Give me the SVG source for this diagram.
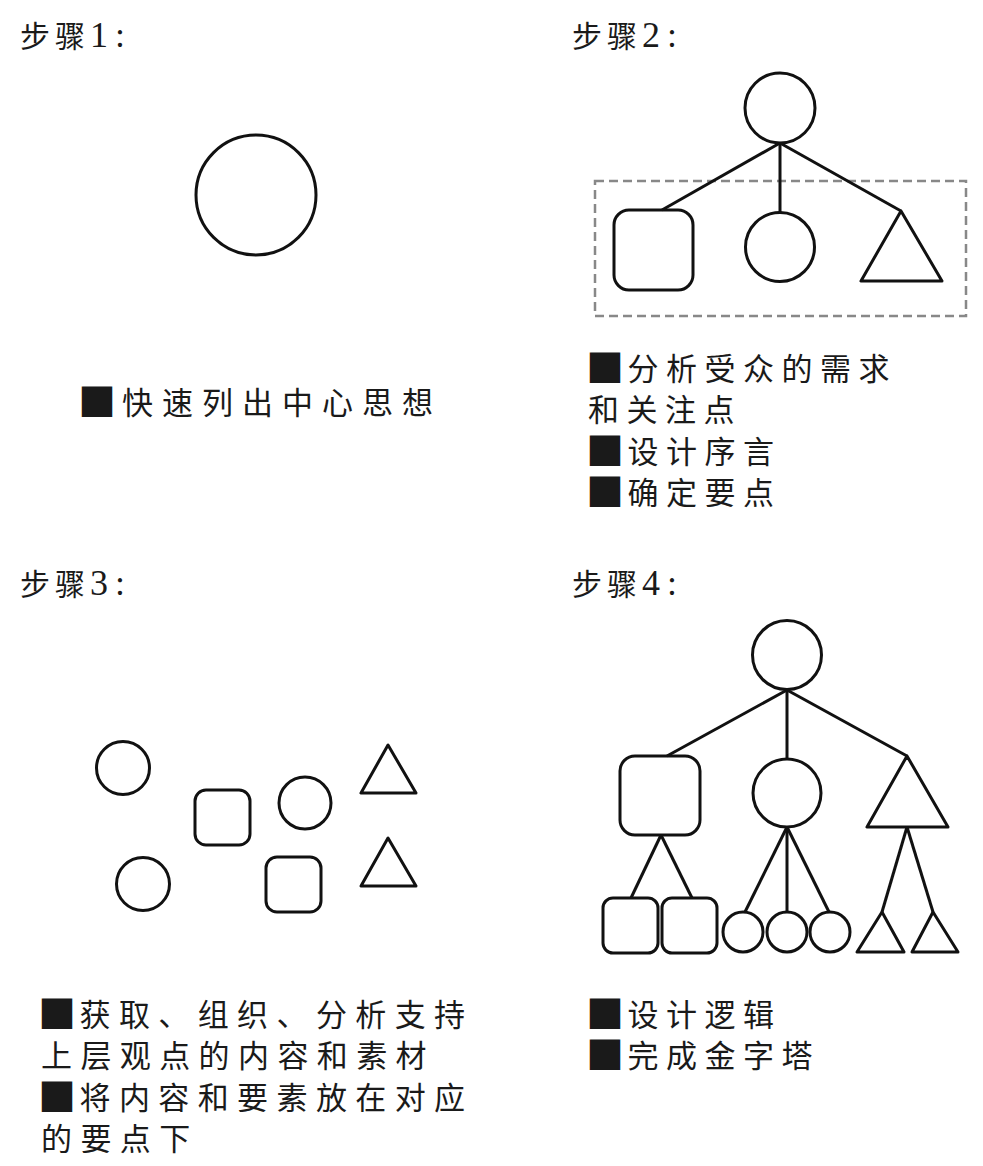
<svg xmlns="http://www.w3.org/2000/svg" width="983" height="1166" viewBox="0 0 983 1166">
<style>
.s{fill:none;stroke:#111;stroke-width:3;stroke-linejoin:round}
.c{stroke:#111;stroke-width:3;fill:none}
.h{font-family:"Liberation Serif","Noto Sans CJK SC",serif;font-size:30px;fill:#1a1a1a;letter-spacing:5px}
.n{font-size:36px;letter-spacing:0}
.t{font-family:"Noto Sans CJK SC",sans-serif;font-size:31px;fill:#1a1a1a;letter-spacing:7.5px}
.b{font-size:38px;letter-spacing:3.5px}
.d{fill:none;stroke:#888;stroke-width:2.5;stroke-dasharray:9 5}
</style>
<rect width="983" height="1166" fill="#fff"/>

<g id="step1">
<text class="h" x="20" y="47">步骤<tspan class="n">1</tspan><tspan class="n" dx="7">:</tspan></text>
<circle class="s" cx="256" cy="195" r="60" stroke-width="2.6"/>
<text class="t" x="78" y="414" style="letter-spacing:9px"><tspan class="b" dy="2" style="letter-spacing:6px">■</tspan><tspan dy="-2">快速列出中心思想</tspan></text>
</g>

<g id="step2">
<text class="h" x="572" y="47">步骤<tspan class="n">2</tspan><tspan class="n" dx="7">:</tspan></text>
<rect class="d" x="595" y="181" width="371" height="135"/>
<g id="s2-connectors">
<line class="c" x1="780" y1="143" x2="662" y2="210"/>
<line class="c" x1="780" y1="143" x2="780" y2="213"/>
<line class="c" x1="780" y1="143" x2="901" y2="211"/>
</g>
<g id="s2-root"><circle class="s" cx="780" cy="108" r="35"/></g>
<g id="s2-square"><rect class="s" x="614" y="210" width="79" height="80" rx="15"/></g>
<g id="s2-circle"><circle class="s" cx="780" cy="247" r="34.5"/></g>
<g id="s2-triangle"><polygon class="s" points="901,211 861,281 942,281"/></g>
<text class="t" x="586" y="380"><tspan class="b" dy="2">■</tspan><tspan dy="-2">分析受众的需求</tspan></text>
<text class="t" x="588" y="421">和关注点</text>
<text class="t" x="586" y="463"><tspan class="b" dy="2">■</tspan><tspan dy="-2">设计序言</tspan></text>
<text class="t" x="586" y="504"><tspan class="b" dy="2">■</tspan><tspan dy="-2">确定要点</tspan></text>
</g>

<g id="step3">
<text class="h" x="20" y="595">步骤<tspan class="n">3</tspan><tspan class="n" dx="7">:</tspan></text>
<g id="s3-c1"><circle class="s" cx="123" cy="768" r="26.5"/></g>
<g id="s3-r1"><rect class="s" x="195" y="790" width="55" height="55" rx="11"/></g>
<g id="s3-c2"><circle class="s" cx="305" cy="803" r="26"/></g>
<g id="s3-t1"><polygon class="s" points="388,745 361,793 416,793"/></g>
<g id="s3-c3"><circle class="s" cx="143" cy="884" r="26.5"/></g>
<g id="s3-r2"><rect class="s" x="266" y="857" width="55" height="55" rx="11"/></g>
<g id="s3-t2"><polygon class="s" points="388,838 361,886 416,886"/></g>
<text class="t" x="38" y="1026" style="letter-spacing:8.4px"><tspan class="b" dy="2">■</tspan><tspan dy="-2">获取、组织、分析支持</tspan></text>
<text class="t" x="41" y="1067" style="letter-spacing:8.4px">上层观点的内容和素材</text>
<text class="t" x="38" y="1109" style="letter-spacing:8.4px"><tspan class="b" dy="2">■</tspan><tspan dy="-2">将内容和要素放在对应</tspan></text>
<text class="t" x="41" y="1150" style="letter-spacing:8.4px">的要点下</text>
</g>

<g id="step4">
<text class="h" x="572" y="595">步骤<tspan class="n">4</tspan><tspan class="n" dx="7">:</tspan></text>
<g id="s4-connectors">
<line class="c" x1="787" y1="690" x2="667" y2="756"/>
<line class="c" x1="787" y1="690" x2="787" y2="759"/>
<line class="c" x1="787" y1="690" x2="907" y2="756"/>
<line class="c" x1="661" y1="835" x2="631" y2="898"/>
<line class="c" x1="661" y1="835" x2="692" y2="898"/>
<line class="c" x1="787" y1="827" x2="745" y2="912"/>
<line class="c" x1="787" y1="827" x2="787" y2="912"/>
<line class="c" x1="787" y1="827" x2="829" y2="912"/>
<line class="c" x1="907" y1="827" x2="882" y2="912"/>
<line class="c" x1="907" y1="827" x2="933" y2="912"/>
</g>
<g id="s4-root"><circle class="s" cx="787" cy="655" r="34.5"/></g>
<g id="s4-square"><rect class="s" x="620" y="756" width="80" height="79" rx="15"/></g>
<g id="s4-circle"><circle class="s" cx="787" cy="793" r="34"/></g>
<g id="s4-triangle"><polygon class="s" points="907,756 867,827 948,827"/></g>
<g id="s4-sq1"><rect class="s" x="603" y="898" width="55" height="55" rx="10"/></g>
<g id="s4-sq2"><rect class="s" x="662" y="898" width="55" height="55" rx="10"/></g>
<g id="s4-c1"><circle class="s" cx="743" cy="932" r="20"/></g>
<g id="s4-c2"><circle class="s" cx="787" cy="932" r="20"/></g>
<g id="s4-c3"><circle class="s" cx="830" cy="932" r="20"/></g>
<g id="s4-t1"><polygon class="s" points="882,912 857,952 904,952"/></g>
<g id="s4-t2"><polygon class="s" points="933,912 912,952 958,952"/></g>
<text class="t" x="586" y="1026"><tspan class="b" dy="2">■</tspan><tspan dy="-2">设计逻辑</tspan></text>
<text class="t" x="586" y="1067"><tspan class="b" dy="2">■</tspan><tspan dy="-2">完成金字塔</tspan></text>
</g>
</svg>
